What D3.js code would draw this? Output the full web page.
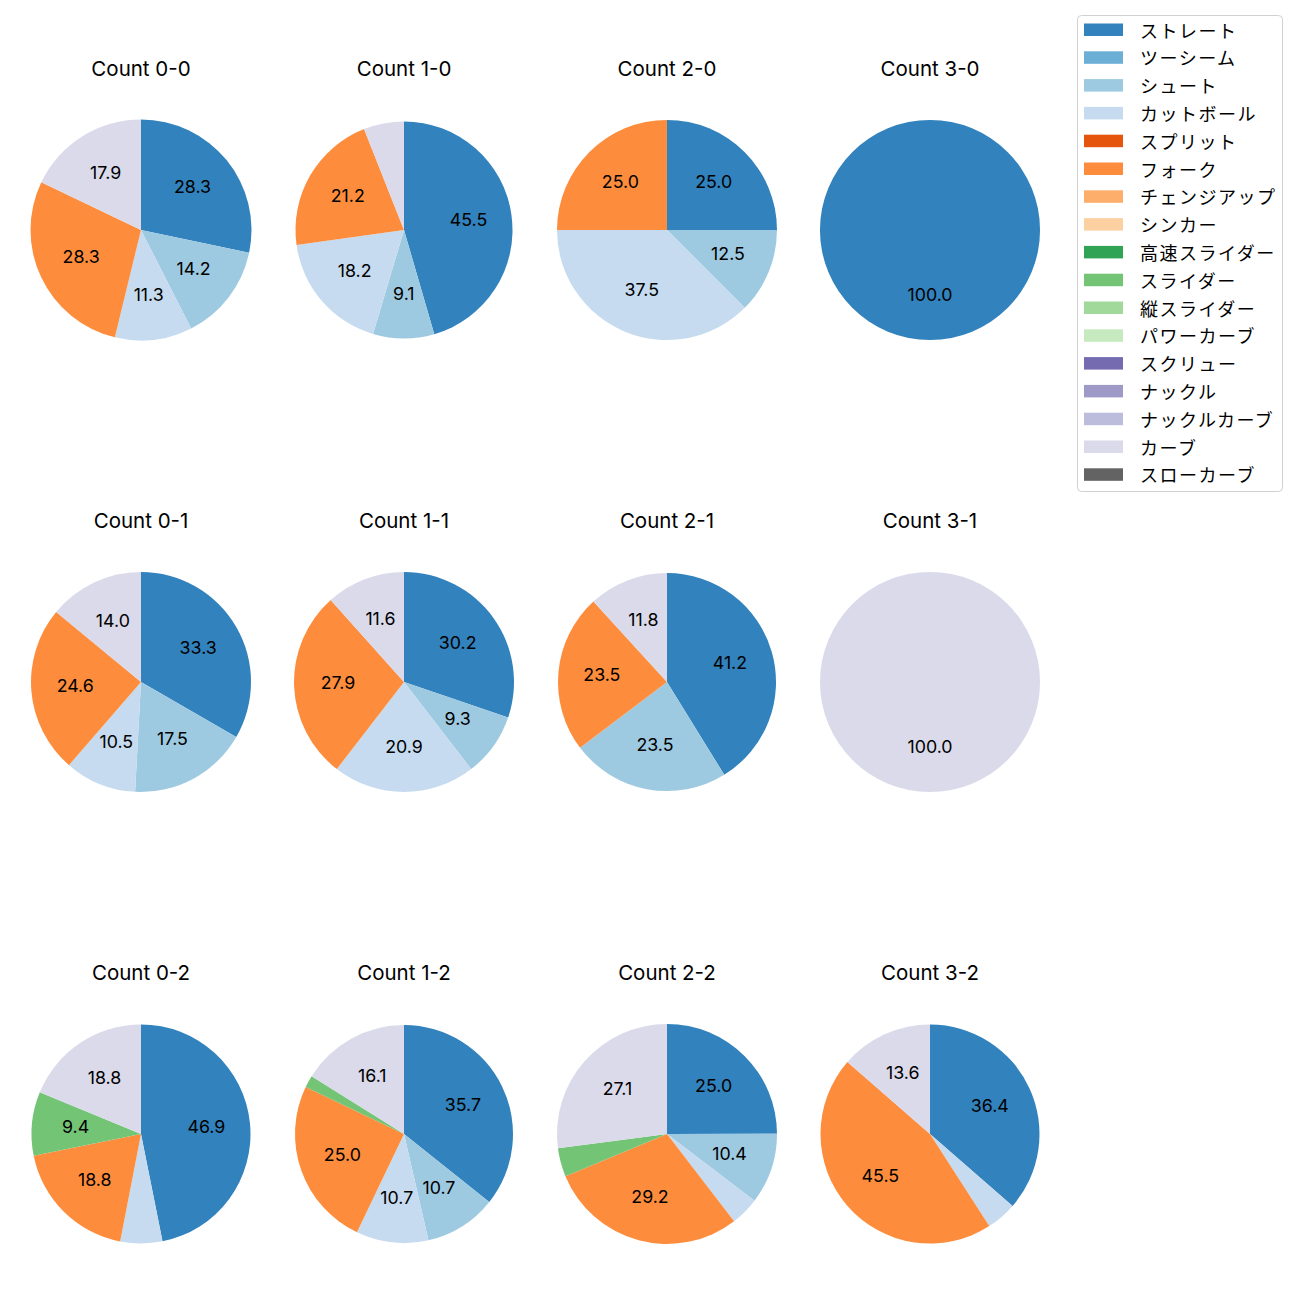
<!DOCTYPE html>
<html>
<head>
<meta charset="utf-8">
<script src="https://cdn.jsdelivr.net/npm/d3@7"></script>
<style>
  html, body { margin: 0; padding: 0; background: #ffffff; }
  svg { display: block; }
  text { font-family: Inter, "Noto Sans CJK JP", "Noto Sans", sans-serif; fill: #000; }
  text.legend-label { font-family: "Noto Sans CJK JP", sans-serif; }
</style>
</head>
<body>
<svg id="chart" width="1300" height="1300"></svg>
<script>
// Pitch types (legend order) and their colours
const pitchTypes = ["ストレート","ツーシーム","シュート","カットボール","スプリット","フォーク","チェンジアップ","シンカー","高速スライダー","スライダー","縦スライダー","パワーカーブ","スクリュー","ナックル","ナックルカーブ","カーブ","スローカーブ"];
const pitchColors = ["#3182bd","#6baed6","#9ecae1","#c6dbef","#e6550d","#fd8d3c","#fdae6b","#fdd0a2","#31a354","#74c476","#a1d99b","#c7e9c0","#756bb1","#9e9ac8","#bcbddc","#dadaeb","#636363"];

// Ball-strike counts, laid out as rows (strikes) x columns (balls)
const countTitles = ["Count 0-0","Count 1-0","Count 2-0","Count 3-0",
                     "Count 0-1","Count 1-1","Count 2-1","Count 3-1",
                     "Count 0-2","Count 1-2","Count 2-2","Count 3-2"];

// Percent share per pitch type, same order as pitchTypes
//                 St    2S   Sh    Cut  Spl  Frk  Chg Snk HSl  Sl   VSl PC  Scr Kn  KC   Cv    SC
const count00 = [28.3, 0, 14.2, 11.3, 0, 28.3, 0, 0, 0, 0,   0, 0, 0, 0, 0, 17.9, 0];
const count10 = [45.5, 0,  9.1, 18.2, 0, 21.2, 0, 0, 0, 0,   0, 0, 0, 0, 0,  6.0, 0];
const count20 = [25.0, 0, 12.5, 37.5, 0, 25.0, 0, 0, 0, 0,   0, 0, 0, 0, 0,  0,   0];
const count30 = [100,  0,  0,    0,   0,  0,   0, 0, 0, 0,   0, 0, 0, 0, 0,  0,   0];
const count01 = [33.3, 0, 17.5, 10.5, 0, 24.6, 0, 0, 0, 0,   0, 0, 0, 0, 0, 14.0, 0];
const count11 = [30.2, 0,  9.3, 20.9, 0, 27.9, 0, 0, 0, 0,   0, 0, 0, 0, 0, 11.6, 0];
const count21 = [41.2, 0, 23.5,  0,   0, 23.5, 0, 0, 0, 0,   0, 0, 0, 0, 0, 11.8, 0];
const count31 = [0,    0,  0,    0,   0,  0,   0, 0, 0, 0,   0, 0, 0, 0, 0, 100,  0];
const count02 = [46.9, 0,  0,    6.2, 0, 18.8, 0, 0, 0, 9.4, 0, 0, 0, 0, 0, 18.8, 0];
const count12 = [35.7, 0, 10.7, 10.7, 0, 25.0, 0, 0, 0, 1.8, 0, 0, 0, 0, 0, 16.1, 0];
const count22 = [25.0, 0, 10.4,  4.2, 0, 29.2, 0, 0, 0, 4.2, 0, 0, 0, 0, 0, 27.1, 0];
const count32 = [36.4, 0,  0,    4.5, 0, 45.5, 0, 0, 0, 0,   0, 0, 0, 0, 0, 13.6, 0];
const countShares = [count00,count10,count20,count30,count01,count11,count21,count31,count02,count12,count22,count32];

const labelThreshold = 7; // smaller wedges are drawn without a label

const svg = d3.select("#chart");

// layout
const colX = d3.scalePoint().domain([0,1,2,3]).range([141, 930]);
const rowY = d3.scalePoint().domain([0,1,2]).range([230, 1134]);
const pieRadius = [110.5, 108.5, 110, 110, 110, 110, 109, 110, 109.5, 109, 110, 109.5];

const color = d3.scaleOrdinal().domain(pitchTypes).range(pitchColors);
const pie = d3.pie().sort(null).value(d => d.value).startAngle(0).endAngle(2 * Math.PI);
const fmt = d3.format(".1f");

countShares.forEach((shares, i) => {
  const col = i % 4, row = Math.floor(i / 4);
  const cx = colX(col), cy = rowY(row);
  const r = pieRadius[i];
  const arc = d3.arc().innerRadius(0).outerRadius(r);
  const labelArc = d3.arc().innerRadius(r * 0.6).outerRadius(r * 0.6);
  const data = pitchTypes.map((p, k) => ({ type: p, value: shares[k] }));
  const total = d3.sum(data, d => d.value);
  const g = svg.append("g").attr("transform", `translate(${cx},${cy})`);

  const arcs = pie(data).filter(a => a.data.value > 0);
  g.selectAll("path").data(arcs).join("path")
    .attr("d", arc)
    .attr("fill", d => color(d.data.type));

  g.selectAll("text.lbl").data(arcs.filter(a => a.data.value / total * 100 >= labelThreshold)).join("text")
    .attr("class", "lbl")
    .attr("transform", d => { const c = labelArc.centroid(d); return `translate(${c[0]},${c[1] - 1.5})`; })
    .attr("text-anchor", "middle")
    .attr("dominant-baseline", "central")
    .style("font-size", "17.8px")
    .text(d => fmt(d.data.value / total * 100));

  svg.append("text")
    .attr("x", cx)
    .attr("y", cy - 154)
    .attr("text-anchor", "middle")
    .style("font-size", "20.5px")
    .text(countTitles[i]);
});

// legend
const legend = svg.append("g").attr("transform", "translate(1077,15)");
legend.append("rect")
  .attr("x", 0.5).attr("y", 0.5)
  .attr("width", 205).attr("height", 476)
  .attr("rx", 4).attr("ry", 4)
  .attr("fill", "#fff").attr("stroke", "#d0d0d0").attr("stroke-width", 1);

const legendY = d3.scaleLinear().domain([0, 1]).range([14.5, 42.3]);
const items = legend.selectAll("g.item").data(pitchTypes).join("g")
  .attr("class", "item")
  .attr("transform", (d, k) => `translate(0,${legendY(k)})`);
items.append("rect")
  .attr("x", 7).attr("y", -6).attr("width", 39).attr("height", 12.5)
  .attr("fill", d => color(d));
items.append("text")
  .attr("class", "legend-label")
  .attr("x", 63).attr("y", 0)
  .attr("dominant-baseline", "central")
  .style("font-size", "18px")
  .style("letter-spacing", "1.5px")
  .text(d => d);
</script>
</body>
</html>
